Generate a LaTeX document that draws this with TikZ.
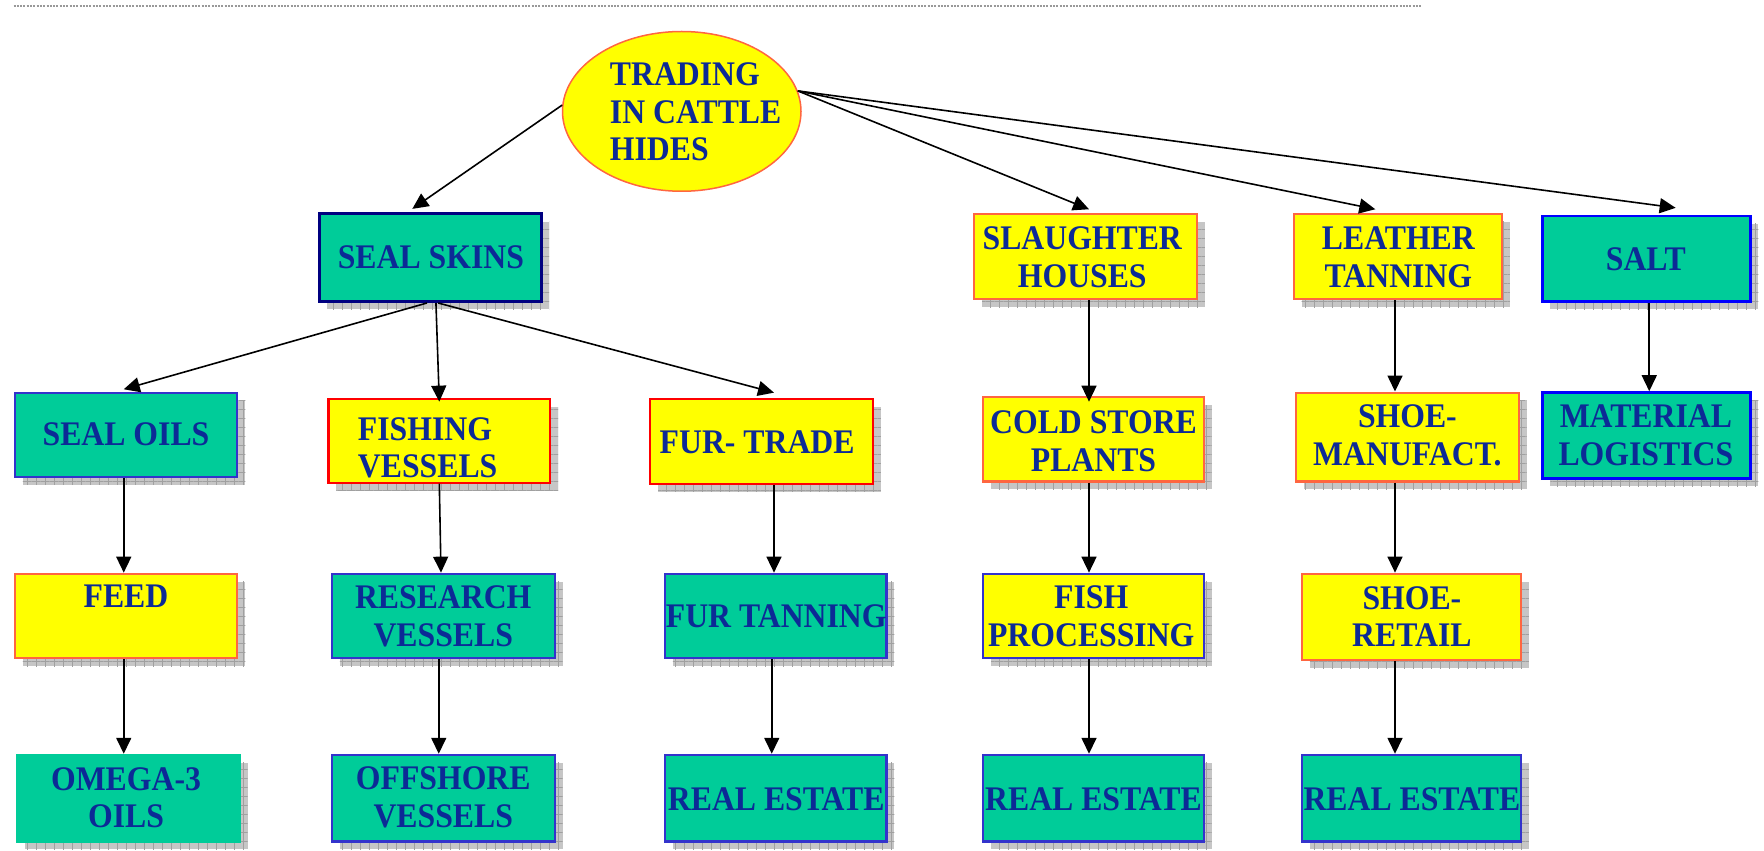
\documentclass[tikz,border=0pt]{standalone}
\usepackage{fontspec}
\setmainfont{Liberation Serif}[FakeStretch=0.92]
\usetikzlibrary{shapes.geometric,fit,calc,arrows.meta,patterns.meta}
\definecolor{tealf}{HTML}{00CC99}
\definecolor{yelf}{HTML}{FFFF00}
\definecolor{coral}{HTML}{FF6640}
\definecolor{redb}{HTML}{FF0000}
\definecolor{blueb}{HTML}{3333CC}
\definecolor{pureb}{HTML}{0000FF}
\definecolor{navyb}{HTML}{000080}
\definecolor{txtb}{HTML}{0C2A96}
\definecolor{shad}{HTML}{C6C6C6}
\definecolor{shadl}{HTML}{A0A0A0}
\tikzset{
  boxbase/.style={rectangle, inner sep=0pt, line width=2.2pt},
  tealbox/.style={boxbase, fill=tealf, draw=#1},
  yelbox/.style={boxbase, fill=yelf, draw=#1},
  lbl/.style={inner sep=0pt, text=txtb, align=center,
    font=\fontsize{34.5}{37.7}\selectfont\bfseries},
  arr/.style={line width=1.6pt, -{Triangle[length=16pt,width=15pt]}},
  shadh/.style={pattern={Lines[distance=9pt,angle=0,line width=0.9pt]}, pattern color=shadl},
  shadv/.style={pattern={Lines[distance=9pt,angle=90,line width=0.9pt]}, pattern color=shadl},
}
\newcommand\mybox[6]{%
  \fill[shad] (#2+7,#3+7) rectangle (#4+7,#5+7);
  \fill[shadh] (#2+7,#3+7) rectangle (#4+7,#5+7);
  \fill[shadv] (#2+7,#3+7) rectangle (#4+7,#5+7);
  \node[#6, fit={(#2,#3)(#4,#5)}] (#1) {};
}
\begin{document}
\begin{tikzpicture}[x=1.125pt,y=-1.125pt]
\fill[white] (0,0) rectangle (1568,756);
\useasboundingbox (0,0) rectangle (1568,756);

% dotted top rule
\draw[black!40, line width=2pt, dash pattern=on 2pt off 1.3pt] (12,5) -- (1263,5);

% root ellipse
\node[ellipse, draw=coral, line width=1.5pt, fill=yelf, inner sep=0pt,
      minimum width=238.5pt, minimum height=159.75pt] (el) at (606,99) {};
\node[lbl, align=left, anchor=west] (tel) at (542,99.5) {TRADING\\IN CATTLE\\HIDES};

% level 1
\mybox{seal}{284}{190}{481}{268}{tealbox=navyb, line width=3pt}
\mybox{slaught}{866}{190}{1064}{266}{yelbox=coral}
\mybox{leather}{1150}{190}{1335}{266}{yelbox=coral}
\mybox{salt}{1371}{192}{1556}{268}{tealbox=pureb, line width=2.8pt}
% level 2
\mybox{oils}{13}{349}{211}{424}{tealbox=blueb}
\mybox{fishing}{292}{355}{489}{429}{yelbox=redb}
\mybox{furtrade}{578}{355}{776}{430}{yelbox=redb}
\mybox{cold}{874}{353}{1070}{428}{yelbox=coral}
\mybox{shoeman}{1152}{349}{1350}{428}{yelbox=coral}
\mybox{material}{1371}{349}{1556}{425}{tealbox=pureb, line width=2.8pt}
% level 3
\mybox{feed}{13}{510}{211}{585}{yelbox=coral}
\mybox{research}{295}{510}{493}{585}{tealbox=blueb}
\mybox{furtan}{591}{510}{788}{585}{tealbox=blueb}
\mybox{fish}{874}{510}{1070}{585}{yelbox=blueb}
\mybox{shoeret}{1157}{510}{1352}{587}{yelbox=coral}
% level 4
\mybox{omega}{15}{671}{213}{748}{tealbox=tealf}
\mybox{offshore}{295}{671}{493}{748}{tealbox=blueb}
\mybox{reA}{591}{671}{788}{748}{tealbox=blueb}
\mybox{reB}{874}{671}{1070}{748}{tealbox=blueb}
\mybox{reC}{1157}{671}{1352}{748}{tealbox=blueb}

% labels
\node[lbl] (tseal) at (383,229) {SEAL SKINS};
\node[lbl] (tslaught) at (962,228.5) {SLAUGHTER\\HOUSES};
\node[lbl] (tleather) at (1243,228.5) {LEATHER\\TANNING};
\node[lbl] (tsalt) at (1463,230) {SALT};
\node[lbl] (toils) at (112,386) {SEAL OILS};
\node[lbl, align=left, anchor=west] (tfishing) at (318,398) {FISHING\\VESSELS};
\node[lbl] (tfurtrade) at (673,393) {FUR- TRADE};
\node[lbl] (tcold) at (972,392.5) {COLD STORE\\PLANTS};
\node[lbl] (tshoeman) at (1251,387) {SHOE-\\MANUFACT.};
\node[lbl] (tmaterial) at (1463,387) {MATERIAL\\LOGISTICS};
\node[lbl] (tfeed) at (112,530) {FEED};
\node[lbl] (tresearch) at (394,548) {RESEARCH\\VESSELS};
\node[lbl] (tfurtan) at (690,548) {FUR TANNING};
\node[lbl] (tfish) at (970,548) {FISH\\PROCESSING};
\node[lbl] (tshoeret) at (1255,548) {SHOE-\\RETAIL};
\node[lbl] (tomega) at (112,709) {OMEGA-3\\OILS};
\node[lbl] (toffshore) at (394,709) {OFFSHORE\\VESSELS};
\node[lbl] (treA) at (690,710) {REAL ESTATE};
\node[lbl] (treB) at (972,710) {REAL ESTATE};
\node[lbl] (treC) at (1255,710) {REAL ESTATE};

% connectors from root
\draw[arr] (el.177) -- ($(seal.north)+(-16,-3)$);
\draw[arr] (el.10) -- ($(slaught.north)+(3,-3)$);
\draw[arr] (el.10) -- ($(leather.north)+(-20,-3)$);
\draw[arr] (el.10) -- ($(salt.north)+(26,-6)$);
% from seal skins
\draw[arr] ($(seal.south)+(-3,0)$) -- ($(oils.north)+(-2,-2)$);
\draw[arr] ($(seal.south)+(5,0)$) -- ($(fishing.north)+(0,3)$);
\draw[arr] ($(seal.south)+(7,0)$) -- ($(furtrade.north)+(11,-5)$);
% vertical chains
\draw[arr] ($(oils.south)+(-2,0)$) -- ($(feed.north)+(-2,0)$);
\draw[arr] ($(feed.south)+(-2,0)$) -- ($(omega.north)+(-4,0)$);
\draw[arr] (fishing.south) -- ($(research.north)+(-2,0)$);
\draw[arr] ($(research.south)+(-4,0)$) -- ($(offshore.north)+(-4,0)$);
\draw[arr] ($(furtrade.south)+(11,0)$) -- ($(furtan.north)+(-1.5,0)$);
\draw[arr] ($(furtan.south)+(-3.5,0)$) -- ($(reA.north)+(-3.5,0)$);
\draw[arr] ($(slaught.south)+(3,0)$) -- ($(cold.north)+(-4,5)$);
\draw[arr] ($(cold.south)+(-4,0)$) -- ($(fish.north)+(-4,0)$);
\draw[arr] ($(fish.south)+(-4,0)$) -- ($(reB.north)+(-4,0)$);
\draw[arr] ($(leather.south)+(-2.5,0)$) -- ($(shoeman.north)+(-11,0)$);
\draw[arr] ($(shoeman.south)+(-11,0)$) -- ($(shoeret.north)+(-14.5,0)$);
\draw[arr] ($(shoeret.south)+(-14.5,0)$) -- ($(reC.north)+(-14.5,0)$);
\draw[arr] ($(salt.south)+(2.5,0)$) -- ($(material.north)+(2.5,0)$);
\end{tikzpicture}
\end{document}
